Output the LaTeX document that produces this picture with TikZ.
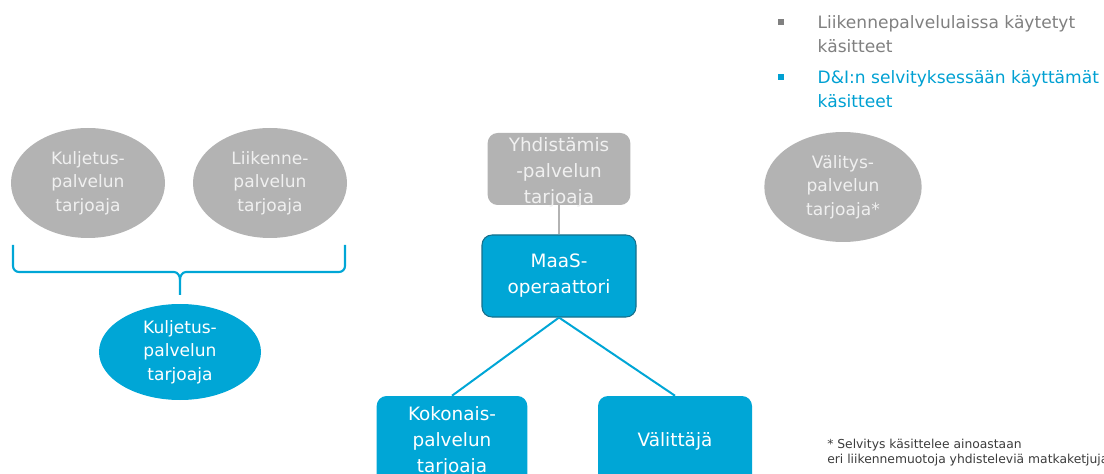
\documentclass[tikz,border=0pt]{standalone}
\usepackage{fontspec}
\setmainfont{DejaVu Sans}
\usetikzlibrary{shapes.geometric}

\begin{document}
\begin{tikzpicture}[x=0.75pt,y=-0.75pt,
  greyoval/.style={ellipse, fill=roleshade, text=roletext, align=center,
    inner sep=0pt, minimum width=115.5pt, minimum height=82.5pt,
    font=\fontsize{12.8}{17.5}\selectfont},
  blueoval/.style={ellipse, fill=dnlblue, text=white, align=center,
    inner sep=0pt, minimum width=121.5pt, minimum height=72pt,
    font=\fontsize{12.8}{17.5}\selectfont},
  rolebox/.style={rectangle, rounded corners=7.5pt, align=center,
    inner xsep=2pt, inner ysep=0pt, font=\fontsize{13.8}{19.5}\selectfont},
  linkline/.style={line width=1.5pt, dnlblue},
  bulletsq/.style={rectangle, inner sep=0pt, minimum size=4.5pt}
]
  % Define colors
  \definecolor{roleshade}{RGB}{179,179,179}
  \definecolor{roletext}{RGB}{240,240,240}
  \definecolor{dnlblue}{RGB}{0,166,214}
  \definecolor{dnlborder}{RGB}{22,112,140}
  \definecolor{legendgrey}{RGB}{128,128,128}
  \definecolor{legendblue}{RGB}{0,160,210}
  \definecolor{notegrey}{RGB}{60,60,60}

  \useasboundingbox (0,0) rectangle (1104,474);

  % Legend
  \node[bulletsq, fill=legendgrey] (bulgrey) at (781,22) {};
  \node[bulletsq, fill=legendblue] (bulblue) at (781,77) {};
  \node[anchor=west, align=left, text=legendgrey,
    font=\fontsize{12.8}{18}\selectfont] (leglaw) at (813,34)
    {Liikennepalvelulaissa käytetyt\\käsitteet};
  \node[anchor=west, align=left, text=legendblue,
    font=\fontsize{12.8}{18}\selectfont] (legdnl) at (813,89.5)
    {D\&I:n selvityksessään käyttämät\\käsitteet};

  % Providers on the left
  \node[greyoval] (kuljetus) at (88,183) {Kuljetus-\\palvelun\\tarjoaja};
  \node[greyoval] (liikenne) at (270,183) {Liikenne-\\palvelun\\tarjoaja};
  \node[blueoval] (kuljblue) at (180,352) {Kuljetus-\\palvelun\\tarjoaja};

  % Brace
  \coordinate (braceleft) at (13,245);
  \coordinate (braceright) at (345,245);
  \coordinate (bracetip) at (180,295);
  \draw[linkline, line width=1.6pt]
    (braceleft) -- (13,266) to[out=-90,in=180] (19,272) -- (174,272)
    to[out=0,in=90] (180,280) -- (bracetip);
  \draw[linkline, line width=1.6pt]
    (braceright) -- (345,266) to[out=-90,in=0] (339,272) -- (186,272)
    to[out=180,in=90] (180,280);

  % MaaS hierarchy
  \node[rolebox, fill=roleshade, minimum width=107pt,
    minimum height=54pt] (yhdist) at (559,169) {};
  \node[rolebox, text=roletext] (yhdlabel) at (559,172)
    {Yhdistämis\\-palvelun\\tarjoaja};
  \node[rolebox, fill=dnlblue, draw=dnlborder, line width=0.8pt, text=white,
    minimum width=115.5pt, minimum height=61.5pt] (maas) at (559,276)
    {MaaS-\\operaattori};
  \node[rolebox, fill=dnlblue, text=white, minimum width=113pt,
    minimum height=67.5pt] (kokon) at (452,441) {Kokonais-\\palvelun\\tarjoaja};
  \node[rolebox, fill=dnlblue, text=white, minimum width=115.5pt,
    minimum height=67.5pt] (valitt) at (675,441) {Välittäjä};

  \draw[line width=1.5pt, roleshade] (yhdist.south) -- (maas.north);
  \draw[linkline] (maas.south) -- (kokon.north);
  \draw[linkline] (maas.south) -- (valitt.north);

  % Broker service
  \node[greyoval, minimum width=118pt] (valitys)
    at (843,187) {Välitys-\\palvelun\\tarjoaja*};

  % Footnote
  \node[anchor=west, align=left, text=notegrey, inner sep=0pt,
    font=\fontsize{9.25}{11.3}\selectfont] (footnote) at (827,452.5)
    {* Selvitys käsittelee ainoastaan\\eri liikennemuotoja yhdisteleviä matkaketjuja};
\end{tikzpicture}
\end{document}
